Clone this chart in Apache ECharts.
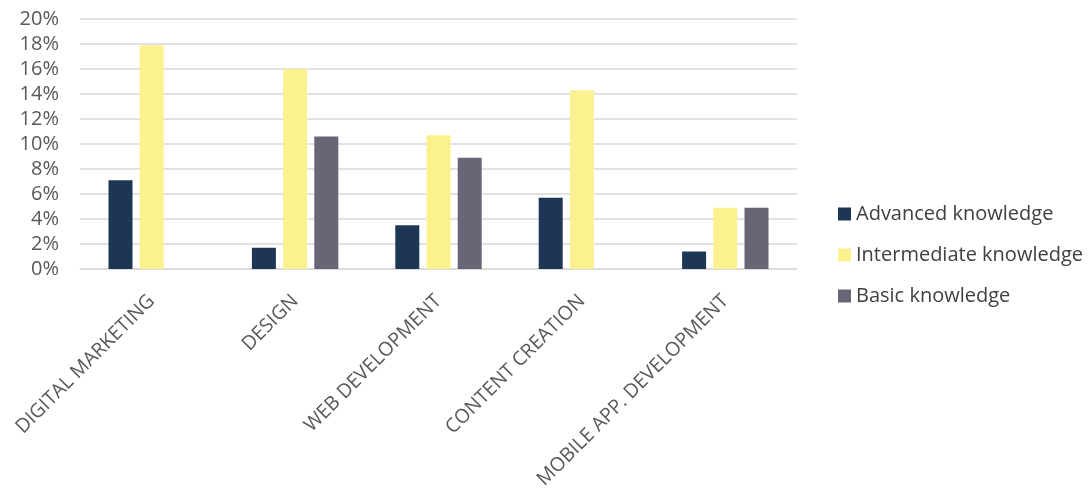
<!DOCTYPE html>
<html><head><meta charset="utf-8">
<script src="https://cdn.jsdelivr.net/npm/echarts@6/dist/echarts.min.js"></script>
<style>html,body{margin:0;padding:0;background:#fff}#c{width:1090px;height:500px}</style>
</head><body><div id="c"></div>
<script>
const categories = ['DIGITAL MARKETING','DESIGN','WEB DEVELOPMENT','CONTENT CREATION','MOBILE APP. DEVELOPMENT'];
const advanced = [7.1, 1.7, 3.5, 5.7, 1.4];
const intermediate = [17.9, 16.0, 10.7, 14.3, 4.9];
const basic = [0, 10.6, 8.9, 0, 4.9];
const seriesNames = ['Advanced knowledge','Intermediate knowledge','Basic knowledge'];
const colors = ['#1d3655','#fbf28f','#666677'];
const font = '"Open Sans", "Noto Sans", sans-serif';
const chart = echarts.init(document.getElementById('c'));
chart.setOption({
  animation:false,
  textStyle:{fontFamily:font},
  grid:{left:80,right:293,top:19,bottom:231,containLabel:false},
  legend:{orient:'vertical',left:833,top:199,itemWidth:13,itemHeight:13,itemGap:21,icon:'rect',
    textStyle:{fontSize:20,color:'#404040',fontFamily:font},data:seriesNames},
  xAxis:{type:'category',data:categories,
    axisLine:{lineStyle:{color:'#d9d9d9',width:1.5}},axisTick:{show:false},
    axisLabel:{rotate:45,fontSize:19.5,color:'#595959',margin:29,interval:0,fontFamily:font}},
  yAxis:{type:'value',min:0,max:20,interval:2,
    axisLine:{show:false},axisTick:{show:false},
    splitLine:{lineStyle:{color:'#d9d9d9',width:1.5}},
    axisLabel:{formatter:v=>v+'%',fontSize:20,color:'#595959',margin:21,fontFamily:font}},
  series:[
    {name:seriesNames[0],type:'bar',data:advanced,barWidth:24,barGap:'30%',itemStyle:{color:colors[0]}},
    {name:seriesNames[1],type:'bar',data:intermediate,barWidth:24,barGap:'30%',itemStyle:{color:colors[1]}},
    {name:seriesNames[2],type:'bar',data:basic,barWidth:24,barGap:'30%',itemStyle:{color:colors[2]}}
  ]
});
</script></body></html>
